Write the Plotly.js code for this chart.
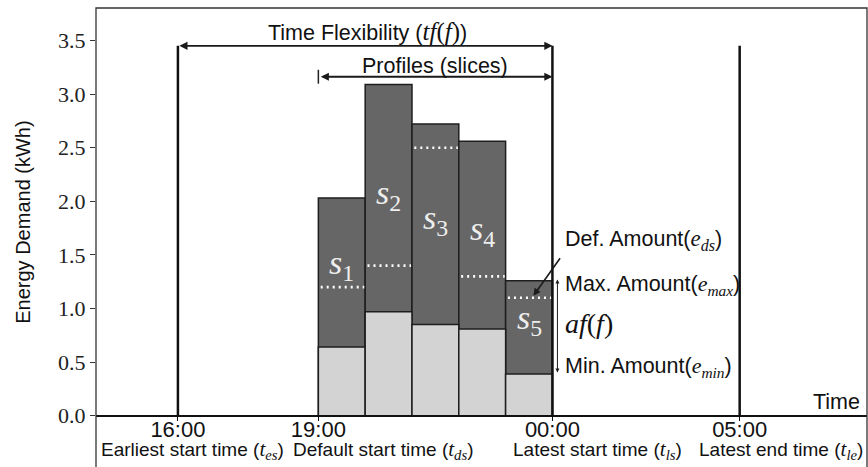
<!DOCTYPE html>
<html><head><meta charset="utf-8">
<script src="https://cdn.plot.ly/plotly-3.0.1.min.js"></script>
<style>html,body{margin:0;padding:0;overflow:hidden;background:#fff}#wrap{width:868px;height:467px;overflow:hidden;position:relative}#chart{width:868px;height:482px}</style>
</head><body><div id="wrap"><div id="chart"></div></div>
<script>
// ---- data ----
const sliceNames = ['1', '2', '3', '4', '5'];
const slotStart = [0, 1, 2, 3, 4];
const maxAmount = [2.03, 3.09, 2.72, 2.56, 1.26];
const minAmount = [0.64, 0.97, 0.85, 0.81, 0.39];
const defAmount = [1.20, 1.40, 2.50, 1.30, 1.10];
const tickPos = [-3, 0, 5, 9];
const tickLabels = ['16:00', '19:00', '00:00', '05:00'];
const tickNames = ['Earliest start time', 'Default start time', 'Latest start time', 'Latest end time'];
const tickSubs = ['es', 'ds', 'ls', 'le'];

// ---- layout helpers ----
const SERIF = 'Liberation Serif';
const SANS = 'Liberation Sans';
const math = (s, px) => '<span style="font-family:Liberation Serif;font-size:' + px + 'px">' + s + '</span>';
const yMin = -0.618, yMax = 3.803;
const flexTop = 3.45, profY = 3.162;
const sliceLabelY = [1.41, 2.06, 1.83, 1.72, 0.89];
const descX = [-2.69, 1.38, 5.97, 9.89];

const traces = [
  { type: 'bar', x: slotStart, y: maxAmount, offset: 0, width: 1,
    marker: { color: '#666666', line: { color: '#1e1e1e', width: 1.5 } }, hoverinfo: 'skip' },
  { type: 'bar', x: slotStart, y: minAmount, offset: 0, width: 1,
    marker: { color: '#d3d3d3', line: { color: '#1e1e1e', width: 1.5 } }, hoverinfo: 'skip' }
];
const dx = [], dy = [];
slotStart.forEach((s, i) => { dx.push(s + 0.05, s + 0.98, null); dy.push(defAmount[i], defAmount[i], null); });
traces.push({ type: 'scatter', mode: 'lines', x: dx, y: dy,
  line: { color: '#ffffff', width: 2.6, dash: '2px,4px' }, hoverinfo: 'skip' });

const shapes = [
  { type: 'rect', xref: 'paper', yref: 'paper', x0: 0, x1: 1, y0: 0, y1: 1, line: { color: '#333', width: 1.3 } },
  { type: 'line', xref: 'x', yref: 'y', x0: slotStart[0], x1: slotStart[0], y0: profY - 0.065, y1: profY + 0.065, line: { color: '#222', width: 1.5 } }
];
[0, 2, 3].forEach(i => shapes.push({ type: 'line', xref: 'x', yref: 'y', x0: tickPos[i], x1: tickPos[i], y0: 0, y1: flexTop, line: { color: '#111', width: 2.5 } }));

const txt = { family: SANS, size: 21.5, color: '#111' };
const annotations = [];
const arr = (x, y, ax, ay, side, w, sz) => ({ x, y, ax, ay, xref: 'x', yref: 'y', axref: 'x', ayref: 'y', text: '', showarrow: true,
  arrowhead: 2, startarrowhead: 2, arrowside: side, arrowwidth: w, arrowsize: sz, startarrowsize: sz, arrowcolor: '#1a1a1a', standoff: 0, startstandoff: 0 });
annotations.push(arr(tickPos[2], flexTop, tickPos[0], flexTop, 'end+start', 1.8, 0.9));
annotations.push(arr(tickPos[2], profY, slotStart[0] + 0.02, profY, 'end+start', 1.8, 0.9));
annotations.push(arr(5.107, 1.27, 5.107, 0.39, 'end+start', 1, 0.8));
annotations.push(arr(4.594, 1.119, 5.186, 1.483, 'end', 1.6, 0.9));
annotations.push({ x: 1.054, y: 3.575, xref: 'x', yref: 'y', showarrow: false, font: txt,
  text: 'Time Flexibility (' + math('<i>tf</i>(<i>f</i>)', 25) + ')' });
annotations.push({ x: 2.494, y: 3.262, xref: 'x', yref: 'y', showarrow: false, font: txt, text: 'Profiles (slices)' });
annotations.push({ x: 5.229, y: 1.639, xref: 'x', yref: 'y', xanchor: 'left', showarrow: false, font: txt,
  text: 'Def. Amount(' + math('<i>e<sub>ds</sub></i>', 23) + ')' });
annotations.push({ x: 5.229, y: 1.219, xref: 'x', yref: 'y', xanchor: 'left', showarrow: false, font: txt,
  text: 'Max. Amount(' + math('<i>e<sub>max</sub></i>', 22) + ')' });
annotations.push({ x: 5.229, y: 0.865, xref: 'x', yref: 'y', xanchor: 'left', showarrow: false, font: { family: SERIF, size: 28, color: '#111' },
  text: '<i>af</i>(<i>f</i>)' });
annotations.push({ x: 5.229, y: 0.457, xref: 'x', yref: 'y', xanchor: 'left', showarrow: false, font: txt,
  text: 'Min. Amount(' + math('<i>e<sub>min</sub></i>', 22) + ')' });
annotations.push({ x: 11.62, y: 0.13, xref: 'x', yref: 'y', xanchor: 'right', showarrow: false, font: txt, text: 'Time' });
annotations.push({ x: -86 / 771, y: 1.80, xref: 'paper', yref: 'y', showarrow: false, textangle: -90,
  font: { family: SANS, size: 20, color: '#111' }, text: 'Energy Demand (kWh)' });
sliceNames.forEach((n, i) => annotations.push({ x: slotStart[i] + 0.5, y: sliceLabelY[i], xref: 'x', yref: 'y', showarrow: false,
  font: { family: SERIF, size: 34, color: '#eeeeee' }, text: '<i>s</i><sub>' + n + '</sub>' }));
tickNames.forEach((n, i) => annotations.push({ x: descX[i], y: -0.32, xref: 'x', yref: 'y', showarrow: false,
  font: { family: SANS, size: 19, color: '#111' }, text: n + ' (' + math('<i>t<sub>' + tickSubs[i] + '</sub></i>', 21) + ')' }));

const layout = {
  width: 868, height: 482,
  margin: { l: 96, r: 1, t: 8, b: 0, pad: 0 },
  paper_bgcolor: '#fff', plot_bgcolor: '#fff',
  barmode: 'overlay', showlegend: false,
  xaxis: { range: [-4.75, 11.72], anchor: 'free', position: (0 - yMin) / (yMax - yMin),
    tickvals: tickPos, ticktext: tickLabels, ticks: 'outside', ticklen: 4, tickcolor: '#111', ticklabelstandoff: -11,
    tickfont: { family: SANS, size: 22, color: '#111' }, showline: true, linecolor: '#111', linewidth: 2.5,
    showgrid: false, zeroline: false, fixedrange: true },
  yaxis: { range: [yMin, yMax], dtick: 0.5, tick0: 0, tickformat: '.1f', ticks: 'outside', ticklen: 5, tickcolor: '#333',
    tickfont: { family: SERIF, size: 22, color: '#222' }, showgrid: false, zeroline: false, showline: false },
  shapes, annotations
};
Plotly.newPlot('chart', traces, layout, { staticPlot: true, displayModeBar: false });
</script></body></html>
